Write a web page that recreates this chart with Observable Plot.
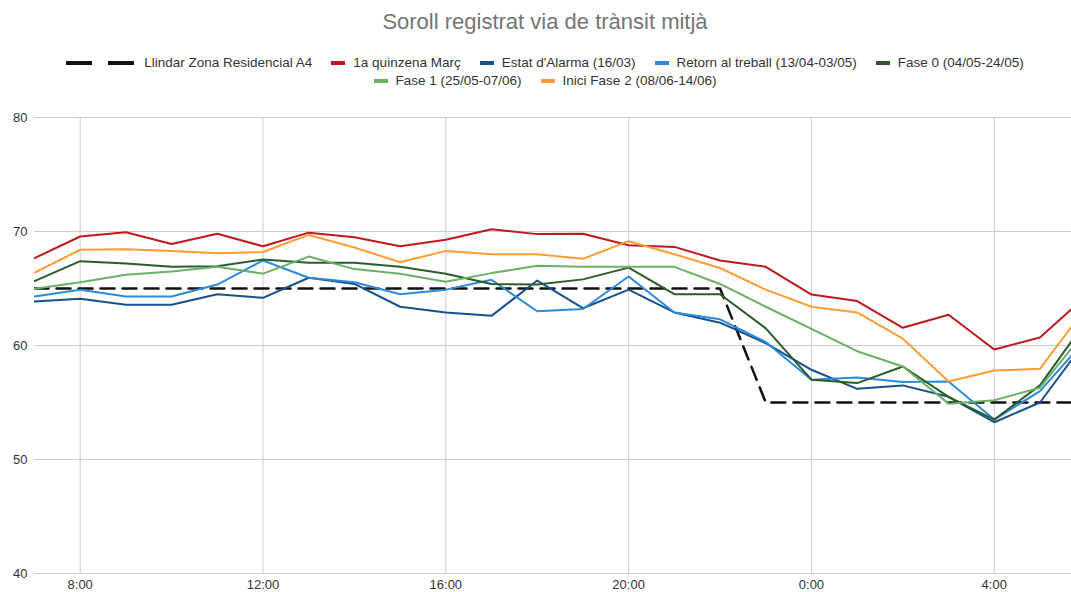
<!DOCTYPE html>
<html>
<head>
<meta charset="utf-8">
<script src="https://cdn.jsdelivr.net/npm/d3@7"></script>
<script src="https://cdn.jsdelivr.net/npm/@observablehq/plot@0.6"></script>
<style>
  html, body { margin: 0; padding: 0; background: #fff; overflow: hidden; }
  #wrap { position: relative; width: 1071px; height: 592px; font-family: "Liberation Sans", Arial, sans-serif; }
  #title { position: absolute; left: 19px; right: 0; top: 8px; line-height: 28px; font-size: 22px; color: #757575; text-align: center; }
  .row { position: absolute; left: 19px; right: 0; height: 18px; line-height: 18px; font-size: 13.5px; color: #333; display: flex; justify-content: center; align-items: center; white-space: nowrap; }
  .item { display: inline-flex; align-items: center; margin: 0 9.5px; }
  .sw { display: inline-block; width: 14px; height: 4px; margin-right: 8px; }
  .dash { display: inline-block; width: 26px; height: 4px; background: #111; }
  #chart { position: absolute; left: 0; top: 100px; }
</style>
</head>
<body>
<div id="wrap">
  <div id="title">Soroll registrat via de trànsit mitjà</div>
  <div class="row" id="row1" style="top:54px"></div>
  <div class="row" id="row2" style="top:72px"></div>
  <div id="chart"></div>
</div>
<script>
// Hours from 7:00 to 6:00 next day (24 = 0:00, 28 = 4:00 ...)
const hours = [7,8,9,10,11,12,13,14,15,16,17,18,19,20,21,22,23,24,25,26,27,28,29,30];

const llindar   = [65,65,65,65,65,65,65,65,65,65,65,65,65,65,65,65,55,55,55,55,55,55,55,55];
const marc      = [67.66,69.56,69.94,68.9,69.8,68.7,69.9,69.5,68.7,69.27,70.2,69.77,69.8,68.8,68.65,67.46,66.9,64.47,63.9,61.55,62.7,59.65,60.7,64.3];
const alarma    = [63.86,64.1,63.57,63.57,64.5,64.18,65.94,65.4,63.4,62.9,62.6,65.7,63.27,64.9,62.9,62.0,60.2,57.87,56.2,56.5,55.5,53.27,55.0,60.4];
const retorn    = [64.3,64.9,64.3,64.3,65.35,67.46,65.94,65.55,64.5,64.9,65.76,63.0,63.2,66.05,62.9,62.3,60.3,57.0,57.2,56.8,56.85,53.5,56.0,60.5];
const fase0     = [65.65,67.4,67.2,66.9,66.96,67.54,67.25,67.25,66.9,66.3,65.4,65.35,65.8,66.83,64.5,64.5,61.5,57.0,56.7,58.16,55.5,53.5,56.5,62.1];
const fase1     = [64.97,65.55,66.2,66.5,66.9,66.3,67.8,66.7,66.3,65.6,66.35,67.0,66.9,66.9,66.9,65.4,63.4,61.46,59.5,58.16,54.9,55.2,56.3,61.3];
const fase2     = [66.4,68.4,68.45,68.3,68.1,68.2,69.7,68.6,67.3,68.3,68.0,68.0,67.6,69.15,68.0,66.8,64.9,63.4,62.9,60.6,56.85,57.8,57.95,63.3];

const seriesNames  = ["Llindar Zona Residencial A4","1a quinzena Març","Estat d'Alarma (16/03)","Retorn al treball (13/04-03/05)","Fase 0 (04/05-24/05)","Fase 1 (25/05-07/06)","Inici Fase 2 (08/06-14/06)"];
const seriesValues = [llindar, marc, alarma, retorn, fase0, fase1, fase2];
const seriesColors = ["#111111","#c0181f","#17508c","#2b8ad9","#2a5c2a","#6ab066","#ff9c33"];

const xTicks = [8,12,16,20,24,28];
const yTicks = [40,50,60,70,80];

// Legend
seriesNames.forEach((name, i) => {
  const row = document.getElementById(i < 5 ? "row1" : "row2");
  const item = document.createElement("span");
  item.className = "item";
  if (i === 0) {
    const d1 = document.createElement("span"); d1.className = "dash";
    const d2 = document.createElement("span"); d2.className = "dash"; d2.style.marginLeft = "16px"; d2.style.marginRight = "10px";
    item.appendChild(d1); item.appendChild(d2);
  } else {
    const sw = document.createElement("span"); sw.className = "sw"; sw.style.background = seriesColors[i];
    item.appendChild(sw);
  }
  item.appendChild(document.createTextNode(name));
  row.appendChild(item);
});

const lineMarks = seriesValues.map((vals, i) => {
  const data = hours.map((h, j) => ({h, v: vals[j]}));
  return Plot.line(data, {
    x: "h", y: "v",
    stroke: seriesColors[i],
    strokeWidth: i === 0 ? 2.5 : 2,
    strokeDasharray: i === 0 ? "14,8" : null,
    strokeLinejoin: "round",
    clip: true
  });
});

const chart = Plot.plot({
  width: 1071,
  height: 492,
  marginTop: 17,
  marginBottom: 19,
  marginLeft: 34,
  marginRight: 0,
  style: { fontFamily: "'Liberation Sans', Arial, sans-serif", fontSize: "13px", color: "#333", background: "white" },
  x: { domain: [7, 29.69], ticks: xTicks, tickFormat: h => `${h % 24}:00`, tickSize: 0, tickPadding: 6, label: null },
  y: { domain: [40, 80], ticks: yTicks, tickSize: 0, tickPadding: 7, label: null },
  marks: [
    Plot.ruleY(yTicks, { stroke: "#cccccc", strokeWidth: 1 }),
    Plot.ruleX(xTicks, { stroke: "#cccccc", strokeWidth: 1 }),
    ...lineMarks
  ]
});
document.getElementById("chart").appendChild(chart);
</script>
</body>
</html>
